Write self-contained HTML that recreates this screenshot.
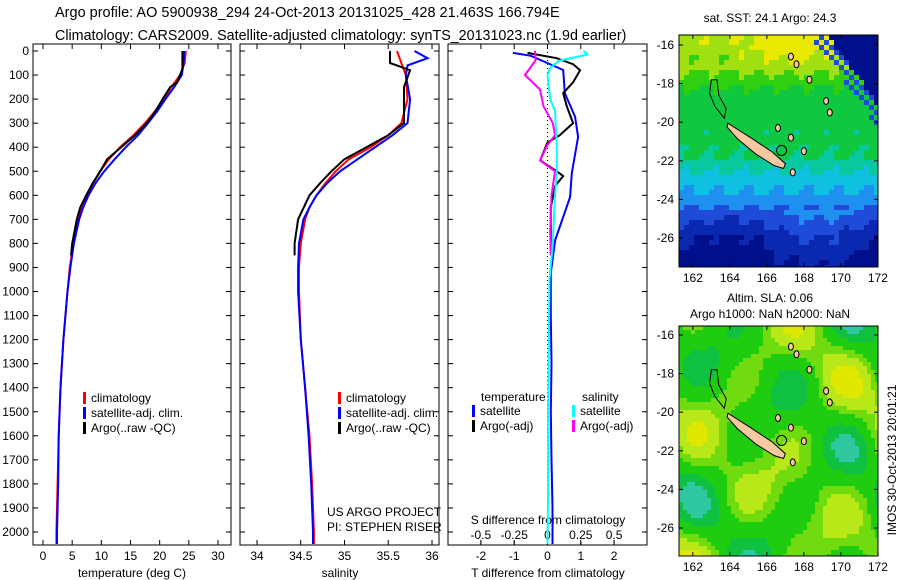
<!DOCTYPE html>
<html><head><meta charset="utf-8"><style>
body{margin:0;background:#fff;}
svg{display:block;font-family:"Liberation Sans",sans-serif;}
</style></head><body>
<svg id="c" width="900" height="580">
<text x="55" y="17" font-size="14.5">Argo profile: AO 5900938_294 24-Oct-2013 20131025_428 21.463S 166.794E</text>
<text x="55" y="40" font-size="14.3">Climatology: CARS2009. Satellite-adjusted climatology: synTS_20131023.nc (1.9d earlier)</text>
<text x="770" y="22" font-size="12" text-anchor="middle">sat. SST: 24.1 Argo: 24.3</text>
<text x="770" y="302" font-size="12" text-anchor="middle">Altim. SLA: 0.06</text>
<text x="770" y="318" font-size="12" text-anchor="middle">Argo h1000: NaN h2000: NaN</text>
<text transform="translate(896,460) rotate(-90)" font-size="12" text-anchor="middle">IMOS 30-Oct-2013 20:01:21</text>
</svg>
<script>
const depthsT=[0,50,100,150,200,250,300,350,400,450,500,550,600,650,700,800,900,1000,1200,1400,1600,1800,2000,2050];
const tempClim=[24.5,24.3,23.5,22,20.7,19.2,17.5,15.5,13.2,11.3,9.8,8.6,7.5,6.6,6,5.2,4.6,4.2,3.5,3,2.7,2.5,2.3,2.3];
const tempSat=[24.2,24.1,23.8,22.5,21,19.6,18,16.3,14.2,12.3,10.5,9,7.8,6.9,6.2,5.3,4.7,4.2,3.5,3,2.7,2.6,2.4,2.4];
const depthsArgo=[0,50,75,130,150,200,250,300,350,400,450,500,550,600,650,700,800,850];
const tempArgo=[23.9,23.9,23.9,23,21.8,20.5,19.3,17.8,15.8,13.4,11,9.8,8.5,7.4,6.4,5.8,5.0,4.8];
const depthsS=[0,30,60,100,200,300,350,400,450,500,550,600,650,700,800,900,1000,1200,1400,1600,1800,2000,2050];
const salClim=[35.6,35.63,35.66,35.7,35.72,35.65,35.5,35.3,35.05,34.9,34.78,34.68,34.6,34.55,34.5,34.48,34.48,34.5,34.55,34.6,34.63,34.65,34.65];
const salSat=[35.8,35.95,35.72,35.7,35.75,35.72,35.55,35.35,35.15,34.95,34.8,34.68,34.6,34.53,34.48,34.47,34.47,34.5,34.55,34.59,34.62,34.64,34.64];
const depthsSA=[0,50,80,150,200,300,350,400,450,500,550,600,700,800,850];
const salArgo=[35.52,35.52,35.75,35.68,35.68,35.68,35.5,35.25,35.0,34.85,34.72,34.6,34.47,34.43,34.43];
const depthsD=[8,20,79,175,274,357,508,607,690,786,923,1100,1300,1500,1700,1900,2050];
const tDiffSat=[-1.04,-0.5,0.47,0.52,0.83,0.92,0.73,0.68,0.47,0.23,0.1,0.1,0.12,0.1,0.12,0.15,0.15];
const depthsDA=[8,30,55,80,130,175,230,300,350,380,455,500,520,560,650,750,850];
const tDiffArgo=[-0.6,0.28,0.77,0.98,0.77,0.47,0.58,0.77,0.37,0,-0.22,0.28,0.47,0.23,0.1,0.1,0.1];
const depthsDS=[0,40,100,160,230,300,350,390,455,500,600,750,850];
const sDiffArgo=[-0.094,-0.09,-0.17,-0.056,-0.03,0.04,0.056,0,-0.056,0.056,0.03,0.02,0.025];
const depthsDSS=[0,15,40,70,100,200,250,400,500,600,800,950,1200,1500,1800,2050];
const sDiffSat=[0.27,0.3,0.09,0.02,0,0.02,0.056,0.07,0.07,0.056,0.04,0.015,0.01,0.005,0.005,0.0];
const depthTicks=[0,100,200,300,400,500,600,700,800,900,1000,1100,1200,1300,1400,1500,1600,1700,1800,1900,2000];
const tTicks=[0,5,10,15,20,25,30];
const sTicks=[34,34.5,35,35.5,36];
const tdTicks=[-2,-1,0,1,2];
const sdTicks=[-0.5,-0.25,0,0.25,0.5];
const sdTickLabels=["-0.5","-0.25","0","0.25","0.5"];
const latTicks=[-16,-18,-20,-22,-24,-26];
const lonTicks=[162,164,166,168,170,172];

const svg=document.getElementById('c');const NS='http://www.w3.org/2000/svg';
function mk(t,a,p){const e=document.createElementNS(NS,t);for(const k in a)e.setAttribute(k,a[k]);(p||svg).appendChild(e);return e;}
const yD=d=>51+d*0.2405;
const TOP=44,BOT=545;
const panels=[{x0:33,x1:231},{x0:240,x1:439},{x0:448,x1:647}];
const xT=v=>43+v*5.833, xS=v=>257+(v-34)*87.5, xTD=v=>547.5+v*33.3, xSD=v=>547.5+v*133.2;
function frame(p,name){const r=mk('rect',{x:p.x0,y:TOP,width:p.x1-p.x0,height:BOT-TOP,fill:'none',stroke:'#000','stroke-width':1});

depthTicks.forEach(d=>{mk('line',{x1:p.x0,x2:p.x0+5,y1:yD(d),y2:yD(d),stroke:'#000'});mk('line',{x1:p.x1-5,x2:p.x1,y1:yD(d),y2:yD(d),stroke:'#000'});});}
function xticks(p,ticks,f,labels,y,name){ticks.forEach((t,i)=>{const x=f(t);mk('line',{x1:x,x2:x,y1:BOT,y2:BOT-5,stroke:'#000'});mk('line',{x1:x,x2:x,y1:TOP,y2:TOP+5,stroke:'#000'});
const tx=mk('text',{x:x,y:y,'font-size':12,'text-anchor':'middle'});tx.textContent=labels?labels[i]:String(t);
});}
function line(ds,vs,f,col,name,w){const pts=ds.map((d,i)=>f(vs[i]).toFixed(1)+','+yD(d).toFixed(1)).join(' ');
const l=mk('polyline',{points:pts,fill:'none',stroke:col,'stroke-width':w||2});
}
function txt(x,y,s,name,sz,anchor){const t=mk('text',{x:x,y:y,'font-size':sz||12,'text-anchor':anchor||'start'});t.textContent=s;
return t;}
frame(panels[0],'temperature-panel');frame(panels[1],'salinity-panel');frame(panels[2],'difference-panel');
depthTicks.forEach(d=>{txt(29,yD(d)+4,String(d),'depth-tick-label',12,'end');});
xticks(panels[0],tTicks,xT,null,560,'temperature-tick-label');
xticks(panels[1],sTicks,xS,null,560,'salinity-tick-label');
xticks(panels[2],tdTicks,xTD,null,560,'tdiff-tick-label');
sdTicks.forEach((t,i)=>{const x=xSD(t);mk('line',{x1:x,x2:x,y1:BOT,y2:BOT-4,stroke:'#000'});txt(x,539,sdTickLabels[i],'sdiff-tick-label',12,'middle');});
txt(132,577,'temperature (deg C)','temperature-axis-title',12,'middle');
txt(340,577,'salinity','salinity-axis-title',12,'middle');
txt(548,577,'T difference from climatology','tdiff-axis-title',12,'middle');
txt(548,524,'S difference from climatology','sdiff-axis-title',12,'middle');
mk('line',{x1:547.5,x2:547.5,y1:TOP,y2:BOT,stroke:'#000','stroke-dasharray':'1,3'});
line(depthsT,tempClim,xT,'#f00','temp-climatology-line');
line(depthsT,tempSat,xT,'#00f','temp-satellite-line');
line(depthsArgo,tempArgo,xT,'#000','temp-argo-line');
line(depthsS,salClim,xS,'#f00','sal-climatology-line');
line(depthsS,salSat,xS,'#00f','sal-satellite-line');
line(depthsSA,salArgo,xS,'#000','sal-argo-line');
line(depthsD,tDiffSat,xTD,'#00f','tdiff-satellite-line');
line(depthsDA,tDiffArgo,xTD,'#000','tdiff-argo-line');
line(depthsDS,sDiffArgo,xSD,'#f0f','sdiff-argo-line');
line(depthsDSS,sDiffSat,xSD,'#0ff','sdiff-satellite-line');
function leg(x,y,col,s){mk('rect',{x:x,y:y-10,width:3,height:12,fill:col});txt(x+8,y,s,'legend-entry');}
leg(83,402,'#f00','climatology');leg(83,417,'#00f','satellite-adj. clim.');leg(83,432,'#000','Argo(..raw -QC)');
leg(338,402,'#f00','climatology');leg(338,417,'#00f','satellite-adj. clim.');leg(338,432,'#000','Argo(..raw -QC)');
txt(481,401,'temperature','legend-header');txt(582,401,'salinity','legend-header');
leg(472,415,'#00f','satellite');leg(472,430,'#000','Argo(-adj)');leg(572,415,'#0ff','satellite');leg(572,430,'#f0f','Argo(-adj)');
txt(327,516,'US ARGO PROJECT','project-label');txt(327,531,'PI: STEPHEN RISER','pi-label');

const MX0=679,MX1=878;
const lx=l=>MX0+(l-161.25)*18.5;
function lerp(a,b,t){return a+(b-a)*t;}
function sstT(v){const pts=[[0,0.84],[0.12,0.8],[0.25,0.66],[0.5,0.62],[0.6,0.5],[0.68,0.42],[0.76,0.3],[0.86,0.16],[1,0.06]];
 for(let i=0;i<pts.length-1;i++)if(v<=pts[i+1][0]){const f=(v-pts[i][0])/(pts[i+1][0]-pts[i][0]);return lerp(pts[i][1],pts[i+1][1],f);}return 0.06;}
function map(y0,y1,lat16,kind,name){
 const ly=l=>lat16+(-16-l)*19.3;
 const g=mk('g',{});
 const cid='clip'+kind;const cp=mk('clipPath',{id:cid});mk('rect',{x:MX0,y:y0,width:MX1-MX0,height:y1-y0},cp);
 const gi=mk('g',{'clip-path':'url(#'+cid+')'},g);
 const cs=kind==='sst'?5:4;
 for(let y=y0;y<y1;y+=cs)for(let x=MX0;x<MX1;x+=cs){
  const u=(x-MX0)/(MX1-MX0),v=(y-y0)/(y1-y0);let c;
  if(kind==='sst'){
   let t=sstT(v)+0.04*Math.sin(x*0.21+y*0.13)*Math.cos(y*0.17);
   if(v<0.2) t+=0.12*Math.max(0,1-Math.abs(u-0.55)*3)*(0.2-v)/0.2;
   if(v>0.75) t-=0.06*Math.sin(u*7);
   const dd=(u-0.7)-v*0.85;
   if(dd>0.04) t=0.03; else if(dd>-0.04 && ((x+y)/5)%2<1) t=0.3;
   const stops=[[0,'#00108a'],[0.12,'#0a28b0'],[0.22,'#1e4cd8'],[0.33,'#1e90f0'],[0.43,'#10c0e0'],[0.52,'#08c8a0'],[0.6,'#10c840'],[0.7,'#30d010'],[0.78,'#a0e010'],[0.86,'#e8e800'],[1,'#f8b800']];
   t=Math.max(0,Math.min(1,t));let k=0;while(k<stops.length-1&&stops[k+1][0]<t)k++;c=stops[k][1];
  } else {
   const f=Math.sin(x*0.06+1)*Math.cos(y*0.05)+0.6*Math.sin(x*0.035-y*0.04);
   c=f>1.1?'#e0e800':f>0.55?'#b8e818':f>0.1?'#70dc10':f>-0.6?'#20cc10':f>-1.1?'#10c040':'#30c8a0';
  }
  mk('rect',{x:x,y:y,width:cs,height:cs,fill:c},gi);
 }
 const isl=[[163.9,-20.05],[164.3,-20.3],[165.2,-20.85],[166.3,-21.55],[167.0,-22.15],[166.9,-22.4],[166.4,-22.25],[165.4,-21.65],[164.4,-20.85],[163.85,-20.25]];
 mk('polygon',{points:isl.map(p=>lx(p[0])+','+ly(p[1])).join(' '),fill:'#f8c8a0',stroke:'#000','stroke-width':1},gi);
 [[167.3,-16.6],[167.6,-17.0],[168.3,-17.8],[169.2,-18.9],[169.4,-19.5],[167.3,-20.8],[168.0,-21.5],[167.4,-22.6],[166.6,-20.3]].forEach(p=>mk('ellipse',{cx:lx(p[0]),cy:ly(p[1]),rx:2.5,ry:3.5,fill:'#f8c8a0',stroke:'#000'},gi));
 mk('polygon',{points:[[163,-17.8],[163.3,-17.8],[163.4,-18.6],[163.8,-19.3],[163.7,-19.8],[163.2,-19.2],[162.9,-18.5]].map(p=>lx(p[0])+','+ly(p[1])).join(' '),fill:'none',stroke:'#000'},gi);
 mk('circle',{cx:lx(166.794),cy:ly(-21.463),r:5,fill:'none',stroke:'#000'},gi);
 mk('rect',{x:MX0,y:y0,width:MX1-MX0,height:y1-y0,fill:'none',stroke:'#000'},g);
 latTicks.forEach(l=>{const y=ly(l);mk('line',{x1:MX0,x2:MX0+4,y1:y,y2:y,stroke:'#000'},g);mk('line',{x1:MX1-4,x2:MX1,y1:y,y2:y,stroke:'#000'},g);
  const t=txt(674,y+4,String(l),'lat-tick-label',12,'end');g.appendChild(t);});
 lonTicks.forEach(l=>{const x=lx(l);mk('line',{x1:x,x2:x,y1:y1,y2:y1-4,stroke:'#000'},g);mk('line',{x1:x,x2:x,y1:y0,y2:y0+4,stroke:'#000'},g);
  const t=txt(x,y1+15,String(l),'lon-tick-label',12,'middle');g.appendChild(t);});
}
map(35,267,45,'sst','sst-map');
map(326,556,335,'sla','sla-map');
</script>
</body></html>
